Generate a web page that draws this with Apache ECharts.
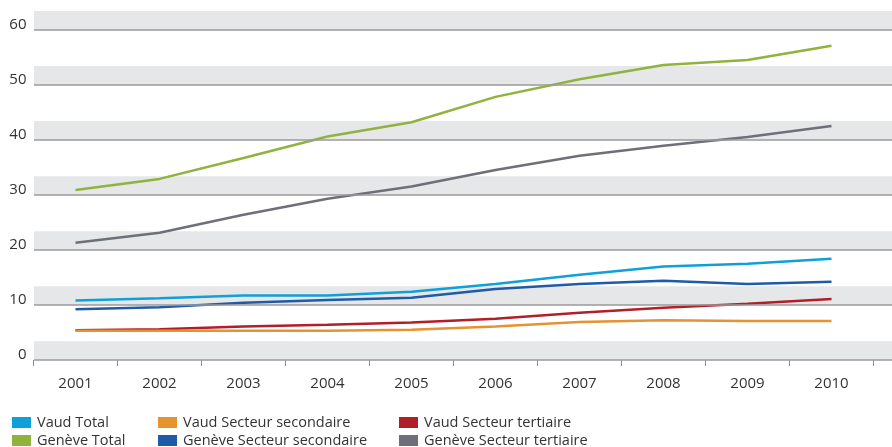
<!DOCTYPE html>
<html>
<head>
<meta charset="utf-8">
<script src="https://cdn.jsdelivr.net/npm/echarts@6/dist/echarts.min.js"></script>
<style>
  html, body { margin: 0; padding: 0; background: #fff; }
  #chart { width: 892px; height: 447px; }
</style>
</head>
<body>
<div id="chart"></div>
<script>
// data
const years = ['2001', '2002', '2003', '2004', '2005', '2006', '2007', '2008', '2009', '2010']
const vaudTotal = [10.8, 11.2, 11.7, 11.7, 12.4, 13.8, 15.5, 17.0, 17.5, 18.4]
const geneveTotal = [30.9, 32.9, 36.7, 40.6, 43.2, 47.8, 51.0, 53.6, 54.5, 57.1]
const vaudSec = [5.3, 5.3, 5.3, 5.3, 5.5, 6.1, 6.9, 7.2, 7.1, 7.1]
const geneveSec = [9.2, 9.6, 10.4, 10.9, 11.3, 12.9, 13.8, 14.4, 13.8, 14.2]
const vaudTert = [5.4, 5.6, 6.1, 6.4, 6.8, 7.5, 8.6, 9.5, 10.2, 11.1]
const geneveTert = [21.3, 23.1, 26.4, 29.3, 31.5, 34.5, 37.1, 38.9, 40.5, 42.5]
const yTicks = [0, 10, 20, 30, 40, 50, 60]

const yMax = 63.4
const bandHeight = 3.4
const textColor = '#333333'
const font = '"Open Sans", "Noto Sans", sans-serif'

const colors = {
  vaudTotal: '#0fa0d9',
  geneveTotal: '#8fb33c',
  vaudSec: '#e59330',
  geneveSec: '#1f5ba6',
  vaudTert: '#b11f2b',
  geneveTert: '#6e6f78'
}

const chart = echarts.init(document.getElementById('chart'))

const lineSeries = (name, data, color) => ({
  name,
  type: 'line',
  xAxisIndex: 1,
  yAxisIndex: 1,
  data,
  symbol: 'none',
  lineStyle: { width: 2.5, color },
  itemStyle: { color },
  emphasis: { disabled: true }
})

// three two-row legend columns under the plot
const legendBase = {
  orient: 'vertical',
  top: 415,
  height: 40,
  padding: 0,
  itemWidth: 19,
  itemHeight: 11,
  itemGap: 3,
  icon: 'rect',
  textStyle: { color: textColor, fontSize: 14.5, fontFamily: font, padding: [0, 0, 0, 1] }
}

const option = {
  animation: false,
  grid: [
    { left: 34, right: 0, top: 11, bottom: 87 },
    { left: 33.5, right: 18.5, top: 11, bottom: 87 }
  ],
  xAxis: [
    { gridIndex: 0, type: 'value', min: 0, max: 1, show: false },
    {
      gridIndex: 1,
      type: 'category',
      data: years,
      axisLine: { show: false },
      axisTick: { show: true, length: 6, lineStyle: { color: '#8c8c8c', width: 1 } },
      axisLabel: { color: textColor, fontSize: 15, fontFamily: font, margin: 16 }
    }
  ],
  yAxis: [
    { gridIndex: 0, type: 'value', min: 0, max: yMax, show: false },
    {
      gridIndex: 1,
      type: 'value',
      min: 0,
      max: yMax,
      interval: 10,
      axisLine: { show: false },
      axisTick: { show: false },
      splitLine: { show: false },
      axisLabel: {
        color: textColor,
        fontSize: 15,
        fontFamily: font,
        margin: 7,
        verticalAlign: 'bottom',
        lineHeight: 10,
        formatter: v => (yTicks.includes(v) ? String(v) : '')
      }
    }
  ],
  legend: [
    Object.assign({}, legendBase, { left: 12, data: ['Vaud Total', 'Genève Total'] }),
    Object.assign({}, legendBase, { left: 158, data: ['Vaud Secteur secondaire', 'Genève Secteur secondaire'] }),
    Object.assign({}, legendBase, { left: 399, data: ['Vaud Secteur tertiaire', 'Genève Secteur tertiaire'] })
  ],
  series: [
    {
      type: 'line',
      xAxisIndex: 0,
      yAxisIndex: 0,
      data: [[0, 0]],
      symbol: 'none',
      silent: true,
      lineStyle: { width: 0 },
      markArea: {
        silent: true,
        itemStyle: { color: '#e6e7e9' },
        data: yTicks.map(t => [{ yAxis: t }, { yAxis: Math.min(t + bandHeight, yMax) }])
      },
      markLine: {
        silent: true,
        symbol: 'none',
        label: { show: false },
        lineStyle: { color: '#9a9a9c', width: 1.5, type: 'solid' },
        data: yTicks.map(t => ({ yAxis: t }))
      }
    },
    lineSeries('Genève Total', geneveTotal, colors.geneveTotal),
    lineSeries('Genève Secteur tertiaire', geneveTert, colors.geneveTert),
    lineSeries('Vaud Total', vaudTotal, colors.vaudTotal),
    lineSeries('Genève Secteur secondaire', geneveSec, colors.geneveSec),
    lineSeries('Vaud Secteur tertiaire', vaudTert, colors.vaudTert),
    lineSeries('Vaud Secteur secondaire', vaudSec, colors.vaudSec)
  ]
}

chart.setOption(option)
</script>
</body>
</html>
